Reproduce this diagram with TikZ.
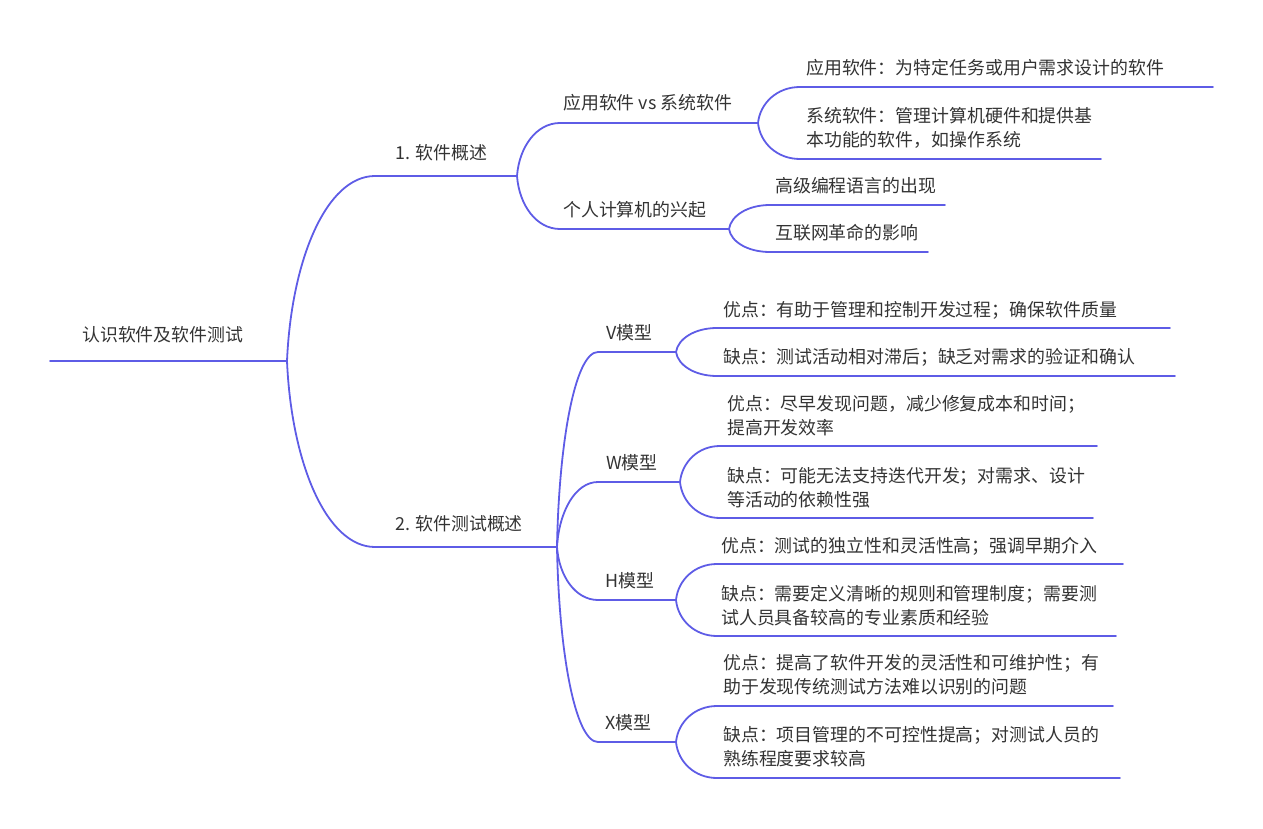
\documentclass[tikz,border=0pt]{standalone}
\usepackage{fontspec}
\newfontfamily\cjk{Noto Sans CJK SC}
\definecolor{edge}{RGB}{94,92,230}
\definecolor{ink}{RGB}{51,51,51}
\tikzset{
  txt/.style={font=\cjk\fontsize{17.9}{24}\selectfont, text=ink, inner sep=0pt, anchor=base west, align=left},
  link/.style={draw=edge, line width=1.8pt, line cap=round, line join=round},
}
\begin{document}
\begin{tikzpicture}[x=1pt,y=-1pt]
\useasboundingbox (0,0) rectangle (1263,829);
% coordinates of underline ends
\coordinate (rS) at (50,361);   \coordinate (rE) at (287,361);
\coordinate (aS) at (375,176);  \coordinate (aE) at (517,176);
\coordinate (bS) at (375,547);  \coordinate (bE) at (557,547);
\coordinate (a1S) at (560,123); \coordinate (a1E) at (758,123);
\coordinate (a2S) at (560,229); \coordinate (a2E) at (729,229);
\coordinate (a11S) at (800,87);  \coordinate (a11E) at (1213,87);
\coordinate (a12S) at (800,159); \coordinate (a12E) at (1101,159);
\coordinate (a21S) at (770,205); \coordinate (a21E) at (945,205);
\coordinate (a22S) at (770,252); \coordinate (a22E) at (928,252);
\coordinate (vS) at (598,352); \coordinate (vE) at (676,352);
\coordinate (wS) at (598,482); \coordinate (wE) at (680,482);
\coordinate (hS) at (598,600); \coordinate (hE) at (676,600);
\coordinate (xS) at (598,742); \coordinate (xE) at (676,742);
\coordinate (v1S) at (717,328); \coordinate (v1E) at (1170,328);
\coordinate (v2S) at (717,376); \coordinate (v2E) at (1175,376);
\coordinate (w1S) at (720,446); \coordinate (w1E) at (1097,446);
\coordinate (w2S) at (720,518); \coordinate (w2E) at (1093,518);
\coordinate (h1S) at (717,564); \coordinate (h1E) at (1123,564);
\coordinate (h2S) at (717,636); \coordinate (h2E) at (1116,636);
\coordinate (x1S) at (717,706); \coordinate (x1E) at (1113,706);
\coordinate (x2S) at (717,778); \coordinate (x2E) at (1120,778);

% texts (multi-line nodes: anchor on last line's baseline)
\node[txt] (root) at (82,341) {认识软件及软件测试};
\node[txt] (a) at (395,160) {1. 软件概述};
\node[txt] (b) at (395,530) {2. 软件测试概述};
\node[txt] (a1) at (563,110) {应用软件 vs 系统软件};
\node[txt] (a2) at (563,217) {个人计算机的兴起};
\node[txt] (a11) at (806,75) {应用软件：为特定任务或用户需求设计的软件};
\node[txt] (a12) at (806,147) {系统软件：管理计算机硬件和提供基\\本功能的软件，如操作系统};
\node[txt] (a21) at (775,193) {高级编程语言的出现};
\node[txt] (a22) at (775,240) {互联网革命的影响};
\node[txt] (v) at (606,339) {V模型};
\node[txt] (w) at (606,469) {W模型};
\node[txt] (h) at (605,587) {H模型};
\node[txt] (x) at (605,729) {X模型};
\node[txt] (v1) at (723,316) {优点：有助于管理和控制开发过程；确保软件质量};
\node[txt] (v2) at (723,363) {缺点：测试活动相对滞后；缺乏对需求的验证和确认};
\node[txt] (w1) at (727,434) {优点：尽早发现问题，减少修复成本和时间；\\提高开发效率};
\node[txt] (w2) at (727,506) {缺点：可能无法支持迭代开发；对需求、设计\\等活动的依赖性强};
\node[txt] (h1) at (721,552) {优点：测试的独立性和灵活性高；强调早期介入};
\node[txt] (h2) at (721,624) {缺点：需要定义清晰的规则和管理制度；需要测\\试人员具备较高的专业素质和经验};
\node[txt] (x1) at (723,693) {优点：提高了软件开发的灵活性和可维护性；有\\助于发现传统测试方法难以识别的问题};
\node[txt] (x2) at (723,765) {缺点：项目管理的不可控性提高；对测试人员的\\熟练程度要求较高};

% underlines
\foreach \n in {r,a,b,a1,a2,a11,a12,a21,a22,v,w,h,x,v1,v2,w1,w2,h1,h2,x1,x2}
  \draw[link] (\n S) -- (\n E);

% connectors
\draw[link] (rE) .. controls (291.4,259.3) and (326.6,176) .. (aS);
\draw[link] (rE) .. controls (291.4,463.3) and (326.6,547) .. (bS);
\draw[link] (aE) .. controls (519.2,146.9) and (536.4,123) .. (a1S);
\draw[link] (aE) .. controls (519.2,205.2) and (536.4,229) .. (a2S);
\draw[link] (a1E) .. controls (760.1,103.2) and (776.9,87) .. (a11S);
\draw[link] (a1E) .. controls (760.1,142.8) and (776.9,159) .. (a12S);
\draw[link] (a2E) .. controls (731,215.8) and (747.5,205) .. (a21S);
\draw[link] (a2E) .. controls (731,241.7) and (747.5,252) .. (a22S);
\draw[link] (bE) .. controls (559,439.8) and (575.5,352) .. (vS);
\draw[link] (bE) .. controls (559,511.3) and (575.5,482) .. (wS);
\draw[link] (bE) .. controls (559,576.2) and (575.5,600) .. (hS);
\draw[link] (bE) .. controls (559,654.3) and (575.5,742) .. (xS);
\draw[link] (vE) .. controls (678,338.8) and (694.5,328) .. (v1S);
\draw[link] (vE) .. controls (678,365.2) and (694.5,376) .. (v2S);
\draw[link] (wE) .. controls (682,462.2) and (698,446) .. (w1S);
\draw[link] (wE) .. controls (682,501.8) and (698,518) .. (w2S);
\draw[link] (hE) .. controls (678,580.2) and (694.5,564) .. (h1S);
\draw[link] (hE) .. controls (678,619.8) and (694.5,636) .. (h2S);
\draw[link] (xE) .. controls (678,722.2) and (694.5,706) .. (x1S);
\draw[link] (xE) .. controls (678,761.8) and (694.5,778) .. (x2S);
\end{tikzpicture}
\end{document}
